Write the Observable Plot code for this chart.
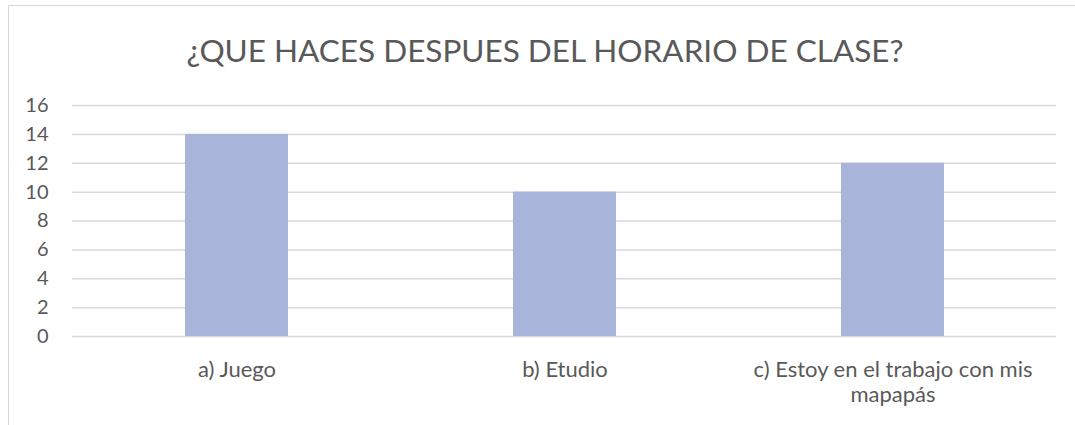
<!DOCTYPE html>
<html>
<head>
<meta charset="utf-8">
<script src="https://cdn.jsdelivr.net/npm/d3@7"></script>
<script src="https://cdn.jsdelivr.net/npm/@observablehq/plot@0.6"></script>
<style>
  html, body { margin: 0; padding: 0; background: #fff; }
  #wrap { position: relative; width: 1075px; height: 425px; overflow: hidden; font-family: Lato, "Open Sans", sans-serif; }
  #frame { position: absolute; left: 8px; top: 5px; width: 1200px; height: 600px; border-left: 1.5px solid #d9d9d9; border-top: 1.5px solid #d9d9d9; }
  #title { position: absolute; left: 0; top: 32px; width: 1090px; text-align: center; font-size: 31.5px; line-height: 1.2; color: #595959; white-space: nowrap; }
  #chart { position: absolute; left: 0; top: 0; }
</style>
</head>
<body>
<div id="wrap">
  <div id="frame"></div>
  <div id="chart"></div>
  <div id="title"></div>
</div>
<script>
const titleText = "¿QUE HACES DESPUES DEL HORARIO DE CLASE?";
const categories = ["a) Juego", "b) Etudio", "c) Estoy en el trabajo con mis mapapás"];
const values = [14, 10, 12];
const yTicks = [0, 2, 4, 6, 8, 10, 12, 14, 16];

const data = categories.map((c, i) => ({category: c, value: values[i]}));
document.getElementById("title").textContent = titleText;

const chart = Plot.plot({
  width: 1075,
  height: 425,
  marginTop: 105,
  marginBottom: 89,
  marginLeft: 72,
  marginRight: 19,
  style: {fontFamily: "Lato, 'Open Sans', sans-serif", fontSize: "20px", color: "#595959", background: "transparent"},
  x: {domain: categories, paddingInner: 0.687, paddingOuter: 0.3435, label: null},
  y: {domain: [0, 16], ticks: yTicks, label: null},
  marks: [
    Plot.gridY(yTicks, {stroke: "#d9d9d9", strokeOpacity: 1, strokeWidth: 1.5}),
    Plot.barY(data, {x: "category", y: "value", fill: "#a8b4da"}),
    Plot.axisY(yTicks, {tickSize: 0, tickPadding: 24, label: null, fill: "#595959", fontSize: 20}),
    Plot.axisX({tickSize: 0, tickPadding: 23, label: null, fill: "#595959", fontSize: 22, lineWidth: 16, lineHeight: 1.14})
  ]
});
document.getElementById("chart").appendChild(chart);
</script>
</body>
</html>
